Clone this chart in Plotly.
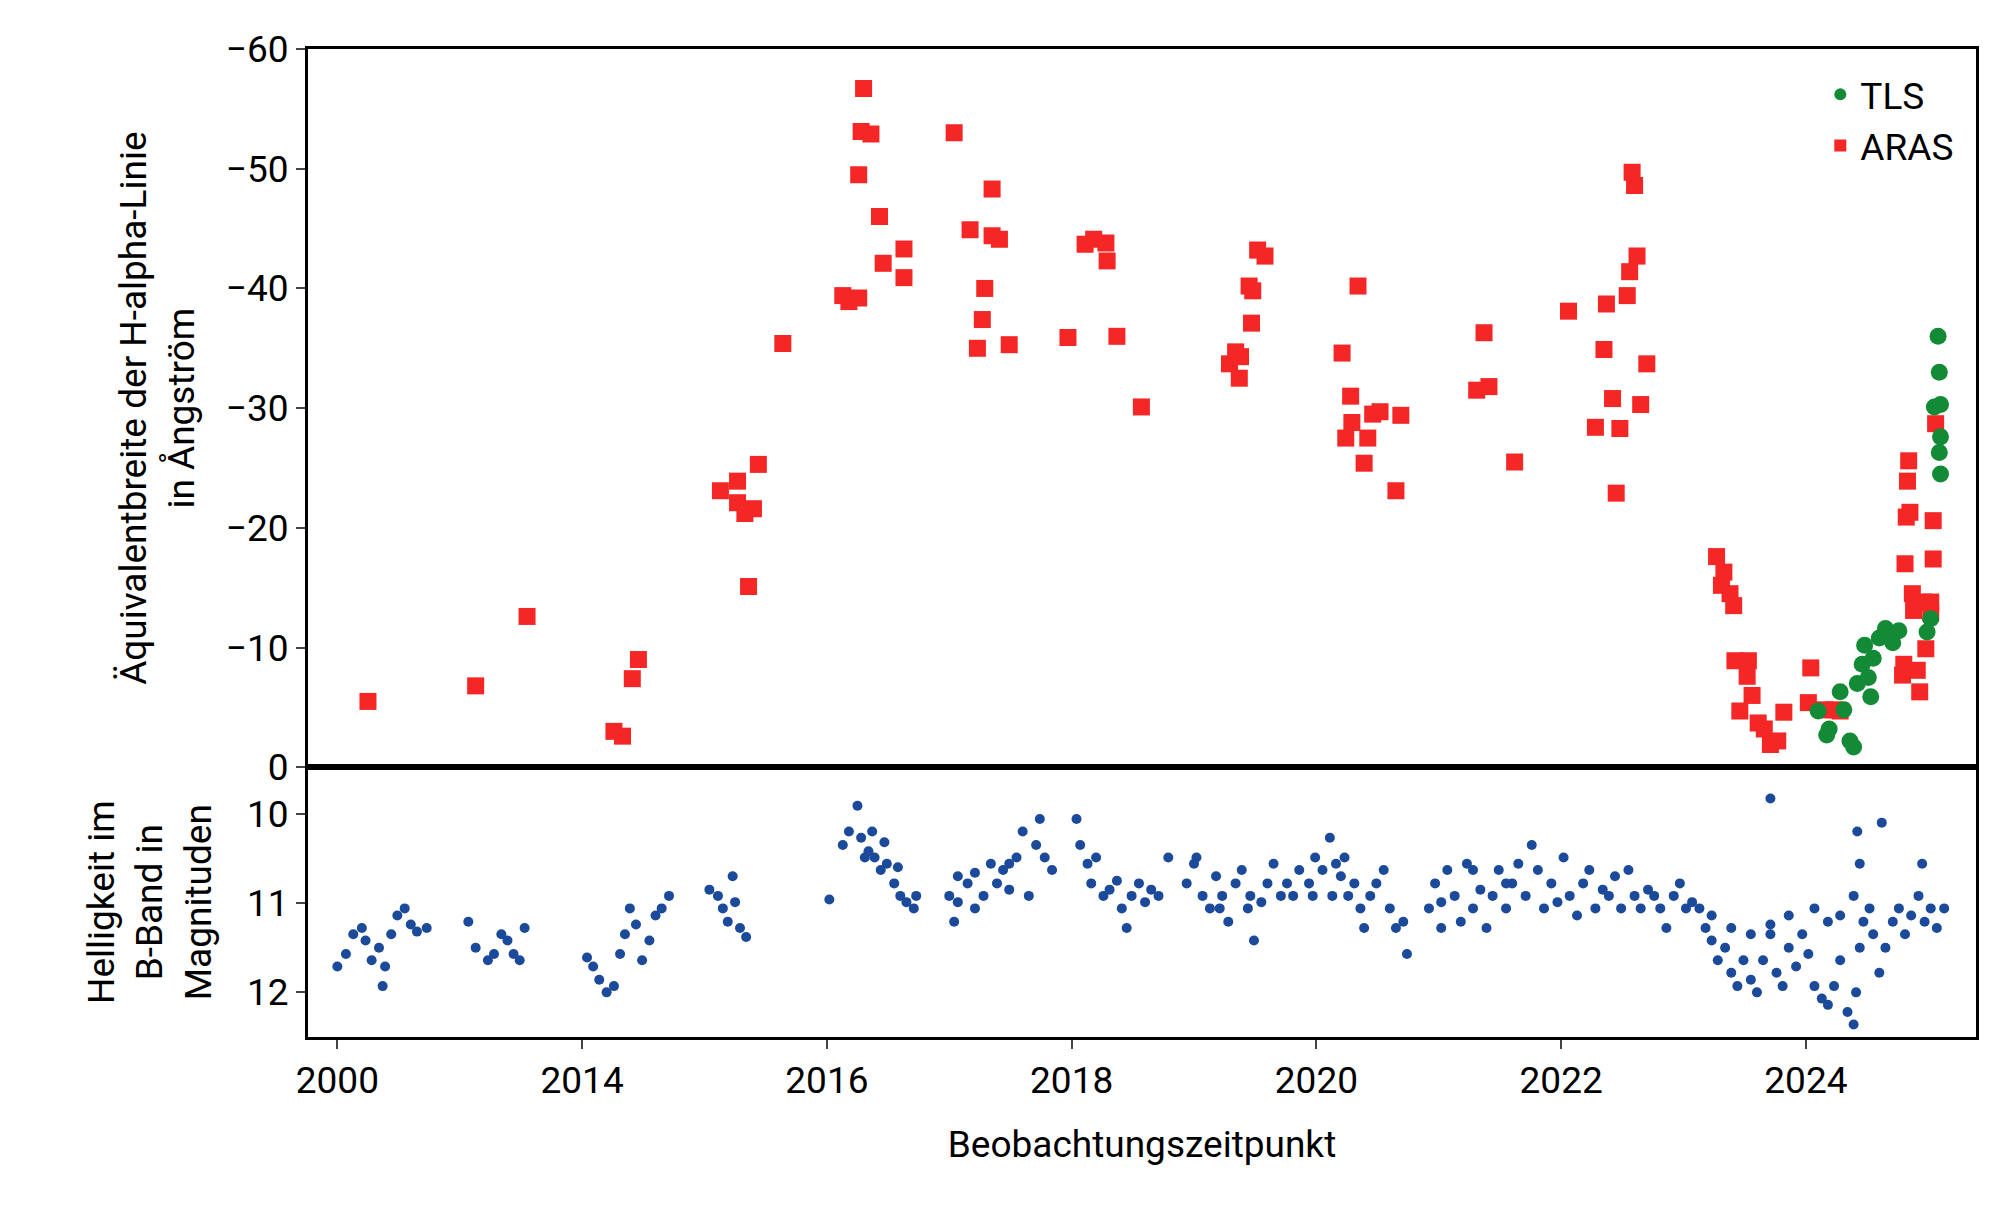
import plotly.graph_objects as go

# ARAS H-alpha equivalent widths (Angstrom), axis years (first segment is compressed, labelled 2000)
aras_t = [2012.25, 2013.13, 2013.55, 2014.26, 2014.33, 2014.41, 2014.46, 2015.13, 2015.27, 2015.27,
          2015.33, 2015.40, 2015.44, 2015.36, 2015.64, 2016.13, 2016.18, 2016.26, 2016.26, 2016.28,
          2016.30, 2016.36, 2016.43, 2016.46, 2016.63, 2016.63, 2017.04, 2017.17, 2017.23, 2017.27,
          2017.29, 2017.35, 2017.35, 2017.41, 2017.49, 2017.97, 2018.11, 2018.18, 2018.28, 2018.29,
          2018.37, 2018.57, 2019.29, 2019.34, 2019.38, 2019.37, 2019.45, 2019.47, 2019.48, 2019.52,
          2019.58, 2020.21, 2020.24, 2020.28, 2020.29, 2020.34, 2020.39, 2020.42, 2020.46, 2020.52,
          2020.65, 2020.69, 2021.31, 2021.37, 2021.41, 2021.62, 2022.06, 2022.28, 2022.35, 2022.37,
          2022.42, 2022.45, 2022.48, 2022.54, 2022.56, 2022.58, 2022.60, 2022.62, 2022.65, 2022.70,
          2023.27, 2023.33, 2023.31, 2023.38, 2023.41, 2023.42, 2023.46, 2023.52, 2023.53, 2023.56,
          2023.61, 2023.66, 2023.71, 2023.77, 2023.82, 2024.02, 2024.04, 2024.15, 2024.23, 2024.28,
          2024.79, 2024.80, 2024.81, 2024.82, 2024.83, 2024.84, 2024.85, 2024.87, 2024.88, 2024.91,
          2024.93, 2024.96, 2024.98, 2025.02, 2025.04, 2025.04, 2025.06, 2025.02]
aras_ew = [-5.5, -6.8, -12.6, -3.0, -2.6, -7.4, -9.0, -23.1, -23.9, -22.1,
           -21.2, -21.6, -25.3, -15.1, -35.4, -39.4, -38.9, -39.2, -49.5, -53.1,
           -56.7, -52.9, -46.0, -42.1, -43.3, -40.9, -53.0, -44.9, -35.0, -37.4,
           -40.0, -48.3, -44.4, -44.1, -35.3, -35.9, -43.7, -44.1, -43.8, -42.3,
           -36.0, -30.1, -33.7, -34.7, -34.3, -32.5, -40.2, -37.1, -39.8, -43.2,
           -42.7, -34.6, -27.5, -31.0, -28.8, -40.2, -25.4, -27.5, -29.5, -29.7,
           -23.1, -29.4, -31.5, -36.3, -31.8, -25.5, -38.1, -28.4, -34.9, -38.7,
           -30.8, -22.9, -28.3, -39.4, -41.4, -49.7, -48.6, -42.7, -30.3, -33.7,
           -17.6, -16.3, -15.2, -14.5, -13.5, -8.9, -4.7, -7.6, -8.9, -6.0,
           -3.7, -3.2, -1.9, -2.2, -4.6, -5.4, -8.3, -4.8, -4.8, -4.7,
           -7.7, -8.6, -17.0, -20.9, -23.9, -25.6, -21.3, -14.5, -13.1, -8.1,
           -6.3, -13.8, -9.9, -13.8, -20.6, -17.4, -28.7, -12.9]

# TLS H-alpha equivalent widths
tls_t = [2024.10, 2024.17, 2024.19, 2024.28, 2024.31, 2024.36, 2024.39, 2024.42, 2024.46, 2024.48,
         2024.51, 2024.53, 2024.55, 2024.60, 2024.65, 2024.71, 2024.76, 2024.99, 2025.02, 2025.05,
         2025.08, 2025.09, 2025.10, 2025.10, 2025.09, 2025.10]
tls_ew = [-4.7, -2.7, -3.2, -6.3, -4.8, -2.2, -1.7, -7.0, -8.6, -10.2,
          -7.5, -5.9, -9.1, -10.8, -11.6, -10.4, -11.4, -11.3, -12.4, -30.1,
          -36.0, -33.0, -30.3, -27.6, -26.3, -24.5]

# B-band photometry (magnitudes)
b_t = [2012.00, 2012.07, 2012.13, 2012.20, 2012.23, 2012.28, 2012.34, 2012.37, 2012.39, 2012.44,
       2012.49, 2012.55, 2012.60, 2012.65, 2012.73,
       2013.07, 2013.13, 2013.23, 2013.28, 2013.34, 2013.39, 2013.44, 2013.49, 2013.53,
       2014.04, 2014.09, 2014.14, 2014.20, 2014.26, 2014.31, 2014.35, 2014.39, 2014.44, 2014.49,
       2014.55, 2014.60, 2014.65, 2014.71,
       2015.04, 2015.11, 2015.15, 2015.19, 2015.23, 2015.25, 2015.29, 2015.34,
       2016.02, 2016.13, 2016.18, 2016.25, 2016.28, 2016.34, 2016.39, 2016.44, 2016.49, 2016.55,
       2016.60, 2016.65, 2016.71, 2016.73, 2016.31, 2016.37, 2016.47, 2016.58,
       2017.00, 2017.04, 2017.07, 2017.15, 2017.21, 2017.28, 2017.34, 2017.39, 2017.44, 2017.49,
       2017.55, 2017.60, 2017.65, 2017.71, 2017.74, 2017.78, 2017.84, 2017.07, 2017.21, 2017.49,
       2018.04, 2018.07, 2018.13, 2018.16, 2018.20, 2018.26, 2018.31, 2018.37, 2018.41, 2018.45,
       2018.49, 2018.55, 2018.60, 2018.65, 2018.71, 2018.79,
       2018.94, 2019.00, 2019.07, 2019.13, 2019.18, 2019.23, 2019.28, 2019.34, 2019.39, 2019.44,
       2019.49, 2019.55, 2019.60, 2019.65, 2019.71, 2019.76, 2019.81, 2019.86, 2019.02, 2019.21, 2019.46,
       2019.94, 2019.99, 2020.05, 2020.11, 2020.16, 2020.20, 2020.26, 2020.31, 2020.36, 2020.39,
       2020.44, 2020.49, 2020.55, 2020.60, 2020.65, 2020.71, 2020.74, 2019.97, 2020.13, 2020.23,
       2020.92, 2020.97, 2021.02, 2021.07, 2021.13, 2021.18, 2021.23, 2021.28, 2021.34, 2021.39,
       2021.44, 2021.49, 2021.55, 2021.60, 2021.65, 2021.71, 2021.76, 2021.81, 2021.86, 2021.02, 2021.28, 2021.55,
       2021.92, 2021.97, 2022.02, 2022.07, 2022.13, 2022.18, 2022.23, 2022.28, 2022.34, 2022.39,
       2022.44, 2022.49, 2022.55, 2022.60, 2022.65, 2022.71, 2022.76, 2022.81, 2022.86, 2022.92,
       2022.97, 2023.02, 2023.07,
       2023.13, 2023.18, 2023.23, 2023.28, 2023.34, 2023.39, 2023.44, 2023.49, 2023.55, 2023.60,
       2023.65, 2023.71, 2023.76, 2023.81, 2023.86, 2023.92, 2023.97, 2023.23, 2023.39, 2023.55,
       2023.71, 2023.86, 2023.71,
       2024.02, 2024.07, 2024.13, 2024.18, 2024.23, 2024.28, 2024.34, 2024.39, 2024.41, 2024.44,
       2024.47, 2024.52, 2024.55, 2024.60, 2024.65, 2024.71, 2024.76, 2024.81, 2024.86, 2024.92,
       2024.97, 2025.02, 2025.07, 2025.13, 2024.07, 2024.18, 2024.28, 2024.39, 2024.44,
       2024.42, 2024.62, 2024.95]
b_mag = [11.71, 11.57, 11.35, 11.28, 11.42, 11.64, 11.50, 11.93, 11.71, 11.35,
         11.14, 11.06, 11.24, 11.32, 11.28,
         11.21, 11.50, 11.64, 11.57, 11.35, 11.42, 11.57, 11.64, 11.28,
         11.61, 11.71, 11.86, 12.00, 11.93, 11.57, 11.35, 11.06, 11.24, 11.64,
         11.42, 11.14, 11.06, 10.92,
         10.85, 10.92, 11.06, 11.21, 10.70, 10.99, 11.28, 11.38,
         10.96, 10.35, 10.20, 9.91, 10.27, 10.42, 10.49, 10.63, 10.56, 10.78,
         10.92, 10.99, 11.06, 10.92, 10.49, 10.20, 10.32, 10.60,
         10.92, 11.21, 10.70, 10.78, 10.66, 10.92, 10.56, 10.78, 10.63, 10.85,
         10.49, 10.20, 10.92, 10.35, 10.06, 10.49, 10.63, 10.99, 11.06, 10.56,
         10.06, 10.35, 10.56, 10.78, 10.49, 10.92, 10.85, 10.75, 11.06, 11.28,
         10.92, 10.78, 10.99, 10.85, 10.92, 10.49,
         10.78, 10.56, 10.92, 11.06, 10.70, 10.92, 11.21, 10.78, 10.63, 11.06,
         11.42, 10.99, 10.78, 10.56, 10.92, 10.78, 10.92, 10.63, 10.49, 11.06, 10.92,
         10.78, 10.49, 10.63, 10.27, 10.56, 10.70, 10.92, 10.78, 11.06, 11.28,
         10.92, 10.78, 10.63, 11.06, 11.28, 11.21, 11.57, 10.92, 10.92, 10.49,
         11.06, 10.78, 10.99, 10.63, 10.92, 11.21, 10.56, 11.06, 10.85, 11.28,
         10.92, 10.63, 11.06, 10.78, 10.56, 10.92, 10.35, 10.63, 11.06, 11.28, 10.63, 10.78,
         10.78, 10.99, 10.49, 10.92, 11.14, 10.78, 10.63, 11.06, 10.85, 10.92,
         10.70, 11.06, 10.63, 10.92, 11.06, 10.85, 10.92, 11.06, 11.28, 10.92,
         10.78, 11.06, 10.99,
         11.06, 11.28, 11.42, 11.64, 11.50, 11.78, 11.93, 11.64, 11.86, 12.00,
         11.64, 11.35, 11.78, 11.93, 11.50, 11.71, 11.35, 11.14, 11.28, 11.35,
         11.24, 11.14, 9.83,
         11.57, 11.93, 12.07, 12.14, 11.93, 11.64, 12.22, 12.36, 12.00, 11.50,
         11.21, 11.06, 11.35, 11.78, 11.50, 11.21, 11.06, 11.35, 11.14, 10.92,
         11.21, 11.06, 11.28, 11.06, 11.06, 11.21, 11.14, 10.92, 10.56,
         10.20, 10.10, 10.56]

x_ticks = [2012, 2014, 2016, 2018, 2020, 2022, 2024]
x_labels = ["2000", "2014", "2016", "2018", "2020", "2022", "2024"]

font = "Roboto"
red = "#f42626"
green = "#138a36"
blue = "#1b4a9a"

fig = go.Figure()
fig.add_trace(go.Scatter(x=aras_t, y=aras_ew, mode="markers", name="ARAS", legendrank=2,
                         marker=dict(symbol="square", size=17, color=red), xaxis="x2", yaxis="y2"))
fig.add_trace(go.Scatter(x=tls_t, y=tls_ew, mode="markers", name="TLS", legendrank=1,
                         marker=dict(symbol="circle", size=17, color=green), xaxis="x2", yaxis="y2"))
fig.add_trace(go.Scatter(x=b_t, y=b_mag, mode="markers", showlegend=False,
                         marker=dict(size=10, color=blue), xaxis="x", yaxis="y"))

axis_style = dict(showgrid=False, zeroline=False, showline=True, linecolor="black", linewidth=3,
                  mirror=True, ticks="outside", ticklen=9, tickwidth=2,
                  tickfont=dict(size=37, color="black"))

fig.update_layout(
    width=2000, height=1209,
    paper_bgcolor="white", plot_bgcolor="white",
    font=dict(family=font, color="black"),
    margin=dict(l=300, r=32, t=41, b=180),
    xaxis=dict(axis_style, range=[2011.76, 2025.39], tickvals=x_ticks, ticktext=x_labels,
               anchor="y", title=dict(text="Beobachtungszeitpunkt", font=dict(size=37), standoff=30)),
    xaxis2=dict(axis_style, range=[2011.76, 2025.39], tickvals=x_ticks, showticklabels=False,
                ticks="", anchor="y2", matches="x"),
    yaxis=dict(axis_style, domain=[0, 0.273], range=[12.5, 9.48], tickvals=[10, 11, 12],
               title=dict(text="Helligkeit im<br>B-Band in<br>Magnituden", font=dict(size=37), standoff=25)),
    yaxis2=dict(axis_style, domain=[0.273, 1], range=[0, -60], tickvals=[0, -10, -20, -30, -40, -50, -60],
                ticktext=["0", "−10", "−20", "−30", "−40", "−50", "−60"],
                title=dict(text="Äquivalentbreite der H-alpha-Linie<br>in Ångström", font=dict(size=37), standoff=20)),
    legend=dict(x=0.99, y=0.985, xanchor="right", yanchor="top", font=dict(size=37),
                bgcolor="rgba(0,0,0,0)", itemsizing="constant"),
)

fig.write_html("out.html")
